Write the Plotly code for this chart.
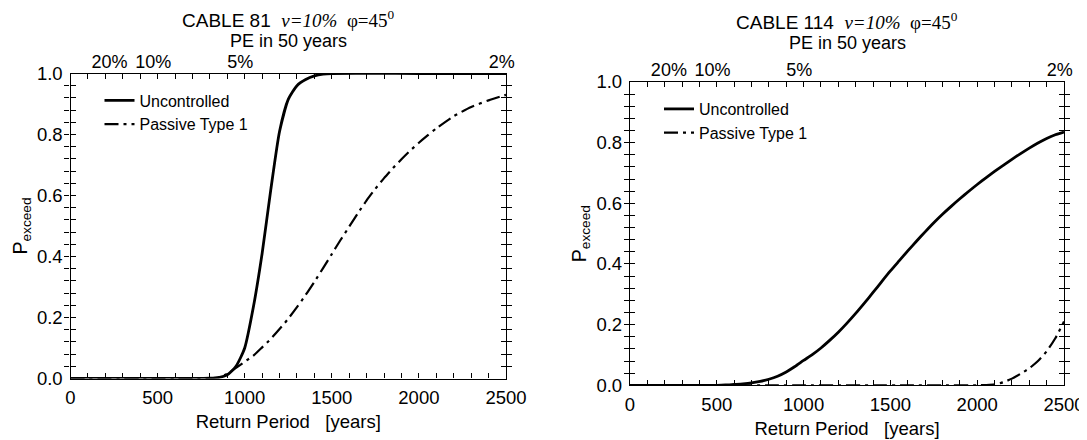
import plotly.graph_objects as go

W, H = 1087, 440
OFF = 8  # page body margin of the browser

# ---------------- data ----------------
rp_u81 = [0, 100, 200, 300, 400, 500, 600, 700, 800, 850, 900, 950, 1000, 1050, 1100,
          1150, 1200, 1250, 1300, 1350, 1400, 1450, 1500, 2000, 2500]
p_u81 = [0, 0, 0, 0, 0, 0, 0, 0, 0.001, 0.003, 0.012, 0.04, 0.10, 0.235, 0.41,
         0.62, 0.81, 0.915, 0.96, 0.98, 0.992, 0.998, 1.0, 1.0, 1.0]

rp_p81 = [0, 100, 200, 300, 400, 500, 600, 700, 800, 850, 900, 950, 1000, 1050, 1100,
          1150, 1200, 1250, 1300, 1350, 1400, 1450, 1500, 1550, 1600, 1650, 1700,
          1750, 1800, 1850, 1900, 1950, 2000, 2050, 2100, 2200, 2300, 2400, 2500]
p_p81 = [0, 0, 0, 0, 0, 0, 0, 0, 0.001, 0.004, 0.015, 0.035, 0.055, 0.075, 0.102,
         0.13, 0.162, 0.196, 0.234, 0.274, 0.317, 0.362, 0.408, 0.454, 0.498, 0.542, 0.584,
         0.622, 0.657, 0.689, 0.719, 0.747, 0.773, 0.797, 0.82, 0.86, 0.89, 0.912, 0.93]

rp_u114 = [0, 100, 200, 300, 400, 500, 550, 600, 650, 700, 750, 800, 850, 900, 950,
           1000, 1050, 1100, 1150, 1200, 1250, 1300, 1350, 1400, 1450, 1500, 1550,
           1600, 1650, 1700, 1750, 1800, 1850, 1900, 1950, 2000, 2050, 2100, 2150,
           2200, 2250, 2300, 2350, 2400, 2450, 2500]
p_u114 = [0, 0, 0, 0, 0, 0, 0.001, 0.003, 0.005, 0.008, 0.013, 0.02, 0.03, 0.044, 0.062,
          0.082, 0.101, 0.123, 0.148, 0.175, 0.205, 0.237, 0.271, 0.306, 0.342, 0.377, 0.41,
          0.443, 0.475, 0.506, 0.536, 0.564, 0.59, 0.615, 0.639, 0.662, 0.684, 0.705, 0.725,
          0.745, 0.764, 0.782, 0.799, 0.814, 0.826, 0.835]

rp_p114 = [0, 200, 400, 600, 800, 1000, 1200, 1400, 1600, 1800, 2000, 2050, 2100, 2150,
           2200, 2250, 2300, 2350, 2400, 2450, 2500]
p_p114 = [0, 0, 0, 0, 0, 0, 0, 0, 0, 0, 0, 0.001, 0.003, 0.01,
          0.022, 0.038, 0.056, 0.08, 0.112, 0.155, 0.21]

pe_labels = ["20%", "10%", "5%", "2%"]
pe_rp = [224, 475, 975, 2475]

titles = ["CABLE 81", "CABLE 114"]
series_names = ["Uncontrolled", "Passive Type 1"]

x_ticks = list(range(0, 2501, 100))
x_labels = [str(v) if v % 500 == 0 else "" for v in x_ticks]
y_ticks = [i * 0.04 for i in range(26)]
y_labels = [("%.1f" % v) if i % 5 == 0 else "" for i, v in enumerate(y_ticks)]

# ---------------- layout helpers ----------------
FONT = "Liberation Sans"

def px_x(p):
    return (p - OFF) / W

def px_y(p):
    return 1 - (p - OFF) / H

panels = [
    dict(x0=70.5, x1=506, y0=73.5, y1=378.5, t1=19.5, t2=41),
    dict(x0=630, x1=1064, y0=82, y1=385.3, t1=21.5, t2=43),
]

fig = go.Figure()

dash_dd = "14px,5px,3px,5px"

data = [((rp_u81, p_u81), (rp_p81, p_p81)), ((rp_u114, p_u114), (rp_p114, p_p114))]

for i, ((xu, yu), (xp, yp)) in enumerate(data):
    xa = "x" if i == 0 else "x2"
    ya = "y" if i == 0 else "y2"
    lg = "legend" if i == 0 else "legend2"
    fig.add_trace(go.Scatter(x=xu, y=yu, mode="lines", name=series_names[0],
                             line=dict(color="black", width=2.8, shape="spline", smoothing=0.6),
                             xaxis=xa, yaxis=ya, legend=lg))
    fig.add_trace(go.Scatter(x=xp, y=yp, mode="lines", name=series_names[1],
                             line=dict(color="black", width=2.2, dash=dash_dd, shape="spline", smoothing=0.6),
                             xaxis=xa, yaxis=ya, legend=lg))
    # empty trace so that the top "PE in 50 years" axis is drawn
    fig.add_trace(go.Scatter(x=[None], y=[None], mode="lines", showlegend=False, hoverinfo="skip",
                             xaxis="x" + str(3 + i), yaxis=ya))

TS = 18.5
axis_common = dict(
    showline=True, linecolor="black", linewidth=1.3, mirror="allticks",
    ticks="inside", ticklen=5, tickwidth=1, tickcolor="black",
    showgrid=False, zeroline=False, automargin=False,
    tickfont=dict(family=FONT, size=TS, color="black"),
)

layout = dict(
    width=W, height=H,
    margin=dict(l=0, r=0, t=0, b=0, autoexpand=False),
    paper_bgcolor="white", plot_bgcolor="white",
    showlegend=True,
    font=dict(family=FONT, color="black"),
)

annotations = []
for i, p in enumerate(panels):
    sfx = "" if i == 0 else "2"
    dom_x = [px_x(p["x0"]), px_x(p["x1"])]
    dom_y = [px_y(p["y1"]), px_y(p["y0"])]
    layout["xaxis" + sfx] = dict(
        axis_common, domain=dom_x, range=[0, 2500],
        tickmode="array", tickvals=x_ticks, ticktext=x_labels, ticklabelstandoff=2,
        anchor="y" + sfx,
        title=dict(text="Return Period\u00a0\u00a0\u00a0[years]", font=dict(family=FONT, size=TS), standoff=8),
    )
    layout["yaxis" + sfx] = dict(
        axis_common, domain=dom_y, range=[0, 1],
        tickmode="array", tickvals=y_ticks, ticktext=y_labels, ticklabelstandoff=3,
        anchor="x" + sfx,
        title=dict(text="P<sub>exceed</sub>", font=dict(family=FONT, size=19.5), standoff=4),
    )
    top = "xaxis" + str(3 + i)
    layout[top] = dict(
        domain=dom_x, range=[0, 2500], overlaying="x" + sfx, anchor="y" + sfx, side="top",
        tickmode="array", tickvals=pe_rp, ticktext=pe_labels, ticks="", showline=False,
        showgrid=False, zeroline=False, automargin=False, ticklabelstandoff=1,
        tickfont=dict(family=FONT, size=18, color="black"),
    )
    cx = px_x((p["x0"] + p["x1"]) / 2)
    annotations.append(dict(
        xref="paper", yref="paper", x=cx, y=px_y(p["t1"]), xanchor="center", yanchor="middle",
        showarrow=False,
        text=(titles[i] + "\u00a0\u00a0<span style=\"font-family:'Liberation Serif'\"><i>\u03bd=10%</i>"
              "\u00a0\u00a0\u03c6=45<sup>0</sup></span>"),
        font=dict(family=FONT, size=19, color="black"),
    ))
    annotations.append(dict(
        xref="paper", yref="paper", x=cx, y=px_y(p["t2"]), xanchor="center", yanchor="middle",
        showarrow=False, text="PE in 50 years",
        font=dict(family=FONT, size=18, color="black"),
    ))
    lgname = "legend" if i == 0 else "legend2"
    layout[lgname] = dict(
        x=px_x(p["x0"] + 29), y=px_y(p["y0"] + 10), xanchor="left", yanchor="top",
        bgcolor="rgba(0,0,0,0)", borderwidth=0,
        font=dict(family=FONT, size=16, color="black"),
        tracegroupgap=0, itemwidth=30,
    )

layout["annotations"] = annotations
fig.update_layout(**layout)

fig.write_html("out.html")
